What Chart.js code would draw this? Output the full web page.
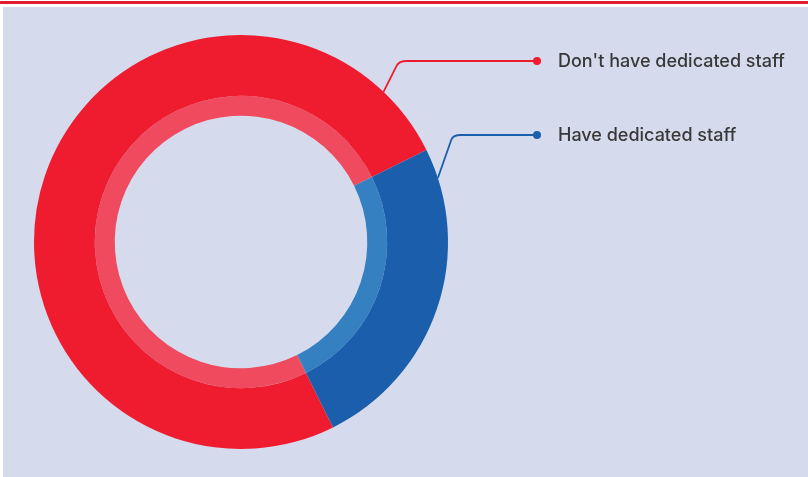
<!DOCTYPE html>
<html>
<head>
<meta charset="utf-8">
<script src="https://cdn.jsdelivr.net/npm/chart.js@4.4.1/dist/chart.umd.min.js"></script>
<style>
  html, body { margin: 0; background: #fff; }
  #wrap { position: relative; width: 808px; height: 477px; overflow: hidden; }
  .topline { position: absolute; left: 0; top: 1px; width: 808px; height: 3px; background: #e31b2f; }
  .panel { position: absolute; left: 3px; top: 7px; right: 0; bottom: 0; background: #d5dbed; }
  canvas { position: absolute; left: 0; top: 0; }
</style>
</head>
<body>
<div id="wrap">
  <div class="topline"></div>
  <div class="panel"></div>
  <canvas id="c" width="808" height="477"></canvas>
</div>
<script>
const categories = ["Don't have dedicated staff", "Have dedicated staff"];
const shares = [75, 25];
const mainColors = ["#ef1c30", "#1b5eab"];
const innerColors = ["#f04a5e", "#3580c0"];

// leader lines + labels on the right
const calloutPlugin = {
  id: "callouts",
  afterDatasetsDraw(chart, args, opts) {
    const ctx = chart.ctx;
    const arcs = chart.getDatasetMeta(0).data;
    opts.items.forEach((it, i) => {
      const arc = arcs[i];
      const a = (it.anchorDeg - 90) * Math.PI / 180;
      const ax = arc.x + Math.cos(a) * arc.outerRadius;
      const ay = arc.y + Math.sin(a) * arc.outerRadius;
      const r = 8;
      const slope = (it.elbowX - ax) / (ay - it.y);
      ctx.save();
      ctx.strokeStyle = mainColors[i];
      ctx.lineWidth = 1.8;
      ctx.beginPath();
      ctx.moveTo(ax, ay);
      ctx.lineTo(it.elbowX - slope * r * 0.6, it.y + r * 0.6);
      ctx.quadraticCurveTo(it.elbowX, it.y, it.elbowX + r, it.y);
      ctx.lineTo(opts.dotX, it.y);
      ctx.stroke();
      ctx.fillStyle = mainColors[i];
      ctx.beginPath();
      ctx.arc(opts.dotX, it.y, 4, 0, Math.PI * 2);
      ctx.fill();
      ctx.fillStyle = "#383838";
      ctx.font = "500 18px Inter, 'Open Sans', sans-serif";
      ctx.textBaseline = "middle";
      ctx.fillText(categories[i], opts.textX, it.y + 1);
      ctx.restore();
    });
  }
};

new Chart(document.getElementById("c"), {
  type: "doughnut",
  data: {
    labels: categories,
    datasets: [
      { data: shares, backgroundColor: mainColors, borderWidth: 0, weight: 61 },
      { data: shares, backgroundColor: innerColors, borderWidth: 0, weight: 20 }
    ]
  },
  options: {
    responsive: false,
    animation: false,
    rotation: 153.6,
    cutout: "61%",
    layout: { padding: { left: 34, right: 360, top: 35, bottom: 28 } },
    plugins: {
      legend: { display: false },
      tooltip: { enabled: false },
      callouts: {
        dotX: 537,
        textX: 558,
        items: [
          { anchorDeg: 43.5, elbowX: 399, y: 61 },
          { anchorDeg: 72, elbowX: 453, y: 135 }
        ]
      }
    }
  },
  plugins: [calloutPlugin]
});
</script>
</body>
</html>
